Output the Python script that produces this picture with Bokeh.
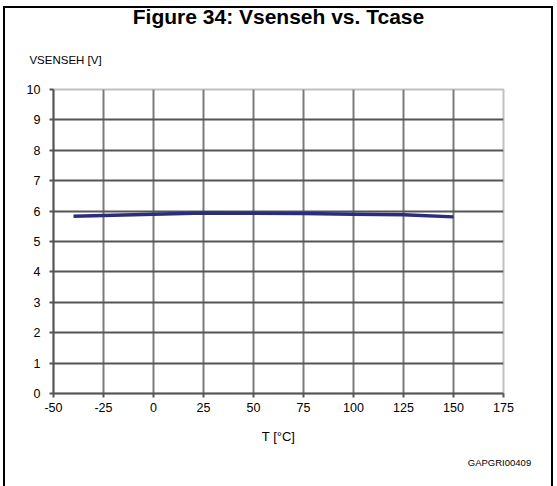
from bokeh.plotting import figure
from bokeh.models import Range1d, FixedTicker, LinearAxis, InlineStyleSheet
from bokeh.embed import file_html
from bokeh.resources import INLINE

# Data
temps = [-40, 0, 25, 50, 75, 100, 125, 150]
vsenseh = [5.83, 5.90, 5.94, 5.93, 5.92, 5.90, 5.88, 5.81]
x_ticks = [-50, -25, 0, 25, 50, 75, 100, 125, 150, 175]
y_ticks = [0, 1, 2, 3, 4, 5, 6, 7, 8, 9, 10]
title_text = "Figure 34: Vsenseh vs. Tcase"
y_title = "VSENSEH [V]"
x_title = "T [°C]"
code_text = "GAPGRI00409"

FONT = "Liberation Sans"

frame_css = InlineStyleSheet(css="""
:host { position: relative; overflow: hidden; }
:host::after {
  content: ""; position: absolute; left: 3px; top: 6px; width: 550px; height: 600px;
  box-sizing: border-box; border: 2px solid black; pointer-events: none; z-index: 10;
}
""")

p = figure(width=557, height=486, output_backend="svg", toolbar_location=None,
           x_range=Range1d(-50, 175), y_range=Range1d(0, 10),
           min_border_left=53, min_border_right=54, min_border_top=89, min_border_bottom=93,
           stylesheets=[frame_css])

p.outline_line_color = "#c0c0c0"
p.outline_line_width = 2

p.xaxis.ticker = FixedTicker(ticks=x_ticks)
p.yaxis.ticker = FixedTicker(ticks=y_ticks)
p.xaxis.major_label_overrides = {t: str(t) for t in x_ticks}
p.xgrid.ticker = FixedTicker(ticks=x_ticks[1:-1])
p.ygrid.ticker = FixedTicker(ticks=y_ticks[1:-1])
p.xgrid.grid_line_color = "#7a7a7a"
p.xgrid.grid_line_width = 2
p.ygrid.grid_line_color = "#555555"
p.ygrid.grid_line_width = 2

for ax in (p.xaxis[0], p.yaxis[0]):
    ax.axis_line_color = "#555555"
    ax.axis_line_width = 2
    ax.major_tick_line_color = "#555555"
    ax.major_tick_line_width = 2
    ax.major_tick_out = 4
    ax.major_tick_in = 0
    ax.minor_tick_line_color = None
    ax.major_label_text_font = FONT
    ax.major_label_text_font_size = "12.5px"
    ax.major_label_text_color = "black"
p.yaxis.major_label_standoff = 9
p.xaxis.major_label_standoff = 5
p.xaxis.axis_label = x_title
p.xaxis.axis_label_text_font = FONT
p.xaxis.axis_label_text_font_size = "13px"
p.xaxis.axis_label_text_font_style = "normal"
p.xaxis.axis_label_text_color = "black"
p.xaxis.axis_label_standoff = 14

p.line(temps, vsenseh, line_color="#2b2d7c", line_width=3.5)

def text_axis(tick, label, size, standoff):
    ax = LinearAxis(ticker=FixedTicker(ticks=[tick]),
                    major_label_overrides={tick: label})
    ax.axis_line_color = None
    ax.major_tick_line_color = None
    ax.minor_tick_line_color = None
    ax.major_tick_out = 0
    ax.major_tick_in = 0
    ax.major_label_text_font = FONT
    ax.major_label_text_font_size = size
    ax.major_label_text_color = "black"
    ax.major_label_standoff = standoff
    return ax

top_ax = text_axis(-44, y_title, "11.5px", 24)
top_ax.axis_label = title_text
top_ax.axis_label_text_font = FONT
top_ax.axis_label_text_font_size = "21px"
top_ax.axis_label_text_font_style = "bold"
top_ax.axis_label_text_color = "black"
top_ax.axis_label_standoff = 23
p.add_layout(top_ax, "above")

code_ax = text_axis(173, code_text, "9.5px", 10)
p.add_layout(code_ax, "below")

open("out.html", "w").write(file_html(p, INLINE))
